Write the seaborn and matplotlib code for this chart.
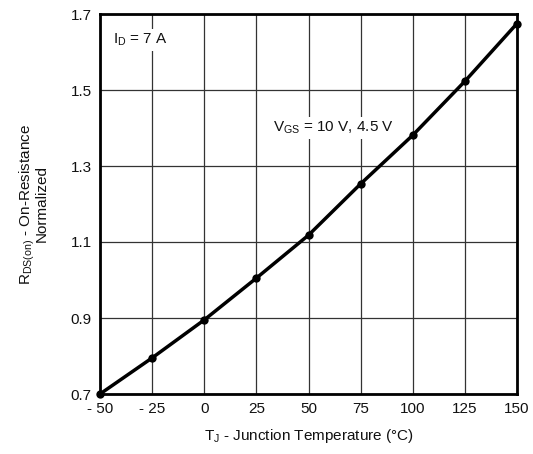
import matplotlib
matplotlib.use("Agg")
import matplotlib.pyplot as plt
import seaborn as sns
import pandas as pd

temperature = [-50, -25, 0, 25, 50, 75, 100, 125, 150]
rds_norm = [0.70, 0.795, 0.895, 1.005, 1.118, 1.253, 1.381, 1.523, 1.675]
x_ticks = [-50, -25, 0, 25, 50, 75, 100, 125, 150]
x_labels = ["- 50", "- 25", "0", "25", "50", "75", "100", "125", "150"]
y_ticks = [0.7, 0.9, 1.1, 1.3, 1.5, 1.7]

sns.set_theme(style="white")
plt.rcParams['font.family'] = ['Liberation Sans', 'DejaVu Sans']
plt.rcParams['mathtext.fontset'] = 'custom'
plt.rcParams['mathtext.rm'] = 'Liberation Sans'
plt.rcParams['mathtext.it'] = 'Liberation Sans'

df = pd.DataFrame({"T": temperature, "R": rds_norm})

fig = plt.figure(figsize=(5.33, 4.54), dpi=100)
ax = fig.add_axes([100/533, 1 - 394/454, 417/533, 380/454])

ax.set_xlim(-50, 150)
ax.set_ylim(0.7, 1.7)
ax.set_xticks(x_ticks)
ax.set_xticklabels(x_labels)
ax.set_yticks(y_ticks)
ax.set_yticklabels([f"{v:.1f}" for v in y_ticks])
ax.grid(True, color="#333333", linewidth=0.9)
ax.set_axisbelow(True)

sns.lineplot(data=df, x="T", y="R", ax=ax, color="black", linewidth=2.5,
             marker="o", markersize=6, markeredgewidth=0, zorder=5, clip_on=False)

for s in ax.spines.values():
    s.set_color("black")
    s.set_linewidth(2)

ax.tick_params(axis="both", labelsize=11, length=0, pad=6, colors="#111111")

ax.set_xlabel("T$_\\mathregular{J}$ - Junction Temperature (°C)", fontsize=11, labelpad=8, color="#111111")
ax.set_ylabel("R$_\\mathregular{DS(on)}$ - On-Resistance\nNormalized", fontsize=11,
              labelpad=16, color="#111111", linespacing=0.8)

ax.text(-44, 1.632, "I$_\\mathregular{D}$ = 7 A", fontsize=11, va="center", ha="left",
        color="#111111", bbox=dict(facecolor="white", edgecolor="none", pad=2), zorder=3)
ax.text(33, 1.40, "V$_\\mathregular{GS}$ = 10 V, 4.5 V", fontsize=11, va="center", ha="left",
        color="#111111", bbox=dict(facecolor="white", edgecolor="none", pad=2), zorder=3)

fig.savefig("out.png", dpi=100)
